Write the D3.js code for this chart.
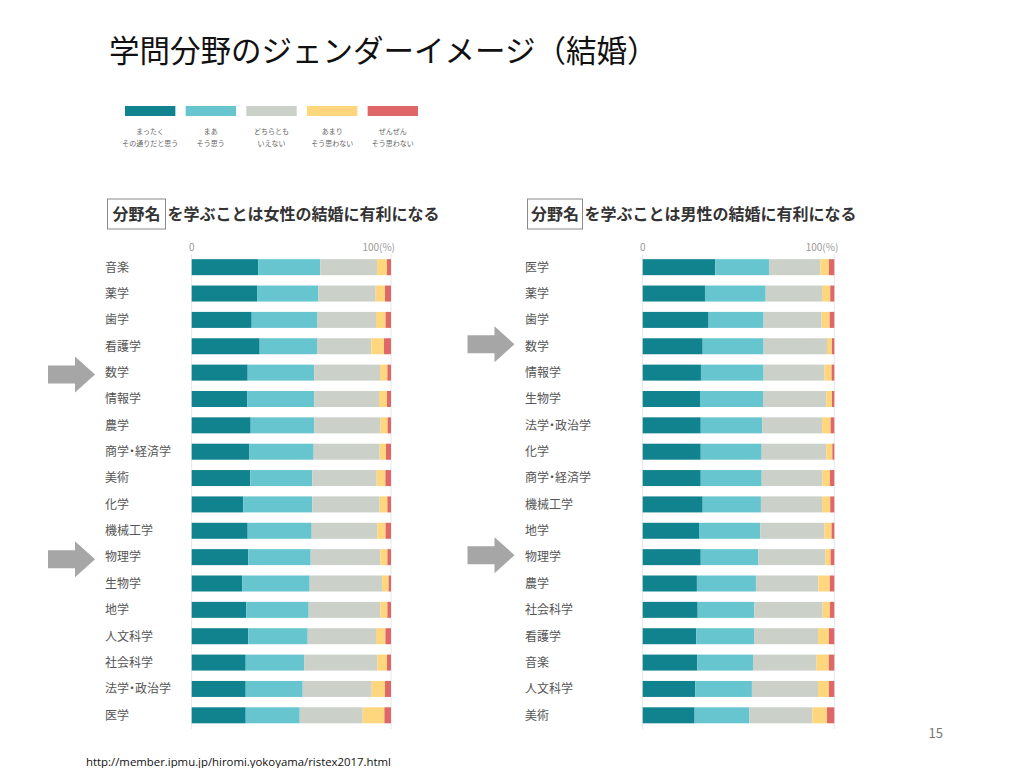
<!DOCTYPE html>
<html>
<head>
<meta charset="utf-8">
<script src="https://cdn.jsdelivr.net/npm/d3@7/dist/d3.min.js"></script>
<style>
  html, body { margin: 0; padding: 0; background: #fff; }
  svg { display: block; }
  text { font-family: "Noto Sans CJK JP", "Noto Sans", sans-serif; }
  text.cat { font-feature-settings: "palt"; }
</style>
</head>
<body>
<svg id="chart" width="1024" height="768"></svg>
<script>
// ---------- DATA ----------
const seriesKeys = ["s1", "s2", "s3", "s4", "s5"];
const legendLine1 = ["まったく", "まあ", "どちらとも", "あまり", "ぜんぜん"];
const legendLine2 = ["その通りだと思う", "そう思う", "いえない", "そう思わない", "そう思わない"];
const seriesColors = ["#11838f", "#66c5cf", "#cbd0c9", "#fdd67e", "#e06767"];

const leftCategories = ["音楽", "薬学", "歯学", "看護学", "数学", "情報学", "農学", "商学・経済学", "美術", "化学", "機械工学", "物理学", "生物学", "地学", "人文科学", "社会科学", "法学・政治学", "医学"];
const leftS1 = [33.4, 32.8, 30.1, 34.1, 28.1, 27.8, 29.6, 28.8, 29.4, 25.9, 28.1, 28.4, 25.4, 27.4, 28.4, 27.1, 27.1, 27.1];
const leftS2 = [31.1, 30.7, 32.8, 28.8, 33.4, 33.7, 31.9, 32.4, 31.1, 34.6, 32.1, 31.3, 33.8, 31.3, 29.8, 29.3, 28.6, 27.1];
const leftS3 = [28.5, 28.8, 29.6, 27.2, 33.0, 32.5, 33.3, 33.1, 32.3, 33.8, 32.9, 34.9, 36.3, 35.9, 34.3, 36.7, 34.6, 31.6];
const leftS4 = [5.0, 4.7, 4.8, 6.4, 3.7, 4.0, 3.5, 3.2, 4.4, 3.9, 4.2, 3.6, 3.3, 3.6, 4.7, 4.9, 6.7, 10.9];
const leftS5 = [2.0, 3.0, 2.7, 3.5, 1.8, 2.0, 1.7, 2.5, 2.8, 1.8, 2.7, 1.8, 1.2, 1.8, 2.8, 2.0, 3.0, 3.3];

const rightCategories = ["医学", "薬学", "歯学", "数学", "情報学", "生物学", "法学・政治学", "化学", "商学・経済学", "機械工学", "地学", "物理学", "農学", "社会科学", "看護学", "音楽", "人文科学", "美術"];
const rightS1 = [37.9, 32.5, 34.4, 31.3, 30.4, 29.9, 30.3, 30.3, 30.3, 31.3, 29.4, 30.3, 28.3, 28.7, 28.0, 28.5, 27.5, 27.1];
const rightS2 = [28.0, 31.7, 28.7, 31.8, 32.7, 32.9, 32.1, 31.8, 31.8, 30.4, 32.0, 30.0, 30.8, 29.6, 30.1, 29.1, 29.5, 28.6];
const rightS3 = [26.8, 29.4, 30.3, 33.1, 31.7, 33.0, 31.2, 33.7, 31.6, 31.9, 33.4, 35.0, 32.6, 35.6, 33.4, 33.0, 34.5, 32.8];
const rightS4 = [4.5, 4.3, 4.2, 2.6, 3.8, 3.0, 4.5, 3.2, 4.0, 4.3, 3.8, 2.8, 6.0, 3.8, 5.7, 6.6, 5.7, 7.7];
const rightS5 = [2.8, 2.1, 2.4, 1.2, 1.4, 1.2, 1.9, 1.0, 2.3, 2.1, 1.4, 1.9, 2.3, 2.3, 2.8, 2.8, 2.8, 3.8];

const axisTicks = [0, 100];
const axisTickLabels = ["0", "100(%)"];
const leftHighlights = ["数学", "物理学"];
const rightHighlights = ["数学", "物理学"];

const titleText = "学問分野のジェンダーイメージ（結婚）";
const boxText = "分野名";
const leftSubtitle = "を学ぶことは女性の結婚に有利になる";
const rightSubtitle = "を学ぶことは男性の結婚に有利になる";
const pageNumber = "15";
const sourceUrl = "http://member.ipmu.jp/hiromi.yokoyama/ristex2017.html";

// ---------- DRAW ----------
const svg = d3.select("#chart");

svg.append("text")
  .attr("x", 109).attr("y", 62)
  .attr("font-size", 30.5).attr("fill", "#111")
  .text(titleText);

// Legend
const legendX = d3.scaleBand().domain(seriesKeys).range([125, 418]).paddingInner(0.17).paddingOuter(0);
const lg = svg.append("g");
seriesKeys.forEach((k, i) => {
  lg.append("rect")
    .attr("x", legendX(k)).attr("y", 106)
    .attr("width", legendX.bandwidth()).attr("height", 10)
    .attr("fill", seriesColors[i]);
  const cx = legendX(k) + legendX.bandwidth() / 2;
  lg.append("text").attr("x", cx).attr("y", 134).attr("text-anchor", "middle")
    .attr("font-size", 7).attr("fill", "#666").text(legendLine1[i]);
  lg.append("text").attr("x", cx).attr("y", 146).attr("text-anchor", "middle")
    .attr("font-size", 7).attr("fill", "#666").text(legendLine2[i]);
});

function drawPanel(cfg) {
  const g = svg.append("g");
  const x = d3.scaleLinear().domain([0, 100]).range([cfg.x0, cfg.x1]);
  const y = d3.scaleBand().domain(cfg.categories)
    .range([254, 254 + 18 * 26.36]).paddingInner(0.393).paddingOuter(0.1965);

  // subtitle
  g.append("rect")
    .attr("x", cfg.boxX).attr("y", 199).attr("width", cfg.boxW).attr("height", 30)
    .attr("fill", "none").attr("stroke", "#8a8a8a").attr("stroke-width", 1);
  g.append("text").attr("x", cfg.boxX + cfg.boxW / 2).attr("y", 220)
    .attr("text-anchor", "middle").attr("font-size", 16).attr("font-weight", 700)
    .attr("fill", "#333").text(boxText);
  g.append("text").attr("x", cfg.boxX + cfg.boxW + 2).attr("y", 220)
    .attr("font-size", 16).attr("font-weight", 700).attr("fill", "#333")
    .text(cfg.subtitle);

  // grid lines at ticks
  g.selectAll("line.grid").data(axisTicks).join("line")
    .attr("class", "grid")
    .attr("x1", d => x(d)).attr("x2", d => x(d))
    .attr("y1", 254).attr("y2", 729)
    .attr("stroke", "#e6e6e6").attr("stroke-width", 1);

  // tick labels
  g.selectAll("text.tick").data(axisTicks).join("text")
    .attr("class", "tick")
    .attr("x", (d, i) => i === 0 ? x(d) : x(d) + 4)
    .attr("y", 251)
    .attr("text-anchor", (d, i) => i === 0 ? "middle" : "end")
    .attr("font-size", 10).attr("fill", "#9a9a9a")
    .text((d, i) => axisTickLabels[i]);

  // data table
  const rows = cfg.categories.map((c, i) => ({
    cat: c, s1: cfg.s[0][i], s2: cfg.s[1][i], s3: cfg.s[2][i], s4: cfg.s[3][i], s5: cfg.s[4][i]
  }));
  const stacked = d3.stack().keys(seriesKeys)(rows);
  g.selectAll("g.series").data(stacked).join("g")
    .attr("class", "series")
    .attr("fill", (d, i) => seriesColors[i])
    .selectAll("rect").data(d => d).join("rect")
    .attr("x", d => x(d[0]))
    .attr("width", d => x(Math.min(d[1], 100)) - x(d[0]))
    .attr("y", d => y(d.data.cat))
    .attr("height", y.bandwidth());

  // category labels
  g.selectAll("text.cat").data(cfg.categories).join("text")
    .attr("class", "cat")
    .attr("x", cfg.labelX)
    .attr("y", d => y(d) + y.bandwidth() / 2)
    .attr("dy", "0.36em")
    .attr("font-size", 12).attr("fill", "#555")
    .text(d => d);

  // highlight arrows
  cfg.highlights.forEach(h => {
    const cy = y(h) + y.bandwidth() / 2 + cfg.arrowDy;
    const ax = cfg.arrowX;
    const path = d3.path();
    path.moveTo(ax, cy - 9);
    path.lineTo(ax + 27, cy - 9);
    path.lineTo(ax + 27, cy - 18);
    path.lineTo(ax + 47, cy);
    path.lineTo(ax + 27, cy + 18);
    path.lineTo(ax + 27, cy + 9);
    path.lineTo(ax, cy + 9);
    path.closePath();
    g.append("path").attr("d", path.toString()).attr("fill", "#a6a6a6");
  });
}

drawPanel({
  categories: leftCategories,
  s: [leftS1, leftS2, leftS3, leftS4, leftS5],
  x0: 191.7, x1: 391, labelX: 105,
  boxX: 107.5, boxW: 58, subtitle: leftSubtitle,
  highlights: leftHighlights, arrowX: 48, arrowDy: 2
});
drawPanel({
  categories: rightCategories,
  s: [rightS1, rightS2, rightS3, rightS4, rightS5],
  x0: 642.7, x1: 834.3, labelX: 525,
  boxX: 527.5, boxW: 55, subtitle: rightSubtitle,
  highlights: rightHighlights, arrowX: 467.5, arrowDy: -2
});

svg.append("text").attr("x", 943).attr("y", 738).attr("text-anchor", "end")
  .attr("font-size", 13).attr("fill", "#777")
  .attr("font-family", "Liberation Sans, sans-serif").text(pageNumber);

svg.append("text").attr("x", 86).attr("y", 766)
  .attr("font-size", 11).attr("fill", "#111")
  .style("font-family", "'Open Sans', 'Liberation Sans', sans-serif")
  .attr("textLength", 305).attr("lengthAdjust", "spacingAndGlyphs")
  .text(sourceUrl);
</script>
</body>
</html>
